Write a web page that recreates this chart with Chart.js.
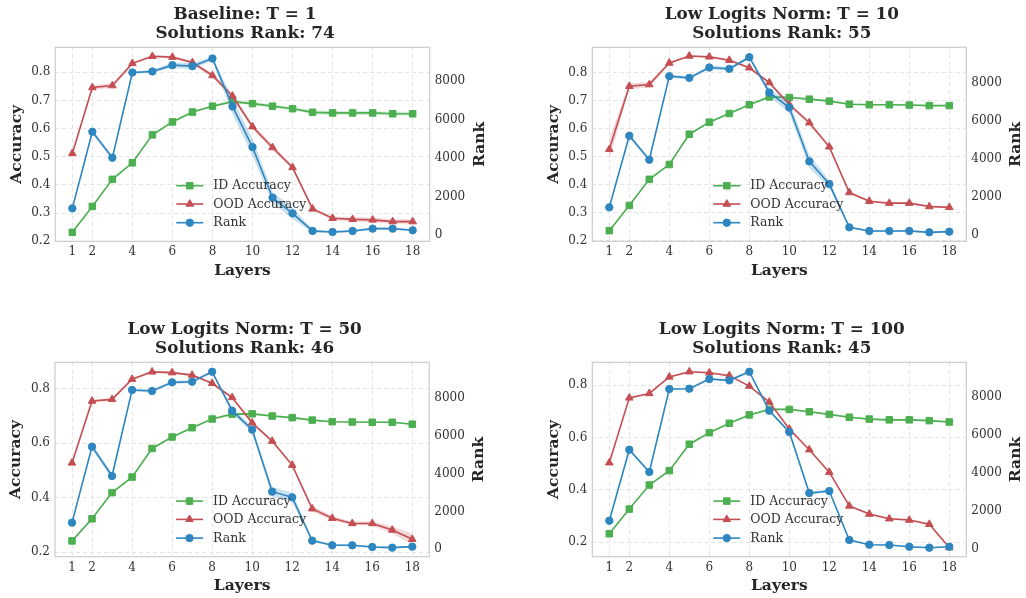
<!DOCTYPE html>
<html><head><meta charset="utf-8">
<script src="https://cdn.jsdelivr.net/npm/chart.js@4.4.1/dist/chart.umd.min.js"></script>
<style>
html,body{margin:0;padding:0;background:#fff;}
#wrap{position:relative;width:1026px;height:598px;overflow:hidden;background:#fff;}
canvas{position:absolute;left:0;top:0;}
</style></head><body><div id="wrap">
<canvas id="c0" width="1026" height="598"></canvas>
<canvas id="c1" width="1026" height="598"></canvas>
<canvas id="c2" width="1026" height="598"></canvas>
<canvas id="c3" width="1026" height="598"></canvas>
</div>
<script>
// ---------- data ----------
const layers = [1,2,3,4,5,6,7,8,9,10,11,12,13,14,15,16,17,18];
const xTickValues = [1,2,4,6,8,10,12,14,16,18];
const accTicksFine = [0.2,0.3,0.4,0.5,0.6,0.7,0.8];
const accTicksCoarse = [0.2,0.4,0.6,0.8];
const rankTicks = [0,2000,4000,6000,8000];
const seriesNames = ['ID Accuracy','OOD Accuracy','Rank'];
const panelTitles = [
  ['Baseline: T = 1','Solutions Rank: 74'],
  ['Low Logits Norm: T = 10','Solutions Rank: 55'],
  ['Low Logits Norm: T = 50','Solutions Rank: 46'],
  ['Low Logits Norm: T = 100','Solutions Rank: 45']
];

const baseId   = [0.232,0.324,0.420,0.479,0.578,0.624,0.659,0.680,0.696,0.689,0.680,0.671,0.658,0.656,0.656,0.656,0.653,0.653];
const baseOod  = [0.512,0.746,0.753,0.832,0.857,0.854,0.835,0.789,0.716,0.607,0.533,0.462,0.315,0.282,0.278,0.276,0.270,0.270];
const baseRank = [1400,5374,4026,8450,8502,8830,8778,9176,6687,4579,1953,1140,225,173,225,346,346,259];
const baseIdStd   = [0.003,0.003,0.003,0.003,0.004,0.004,0.004,0.004,0.006,0.006,0.006,0.006,0.007,0.007,0.007,0.007,0.007,0.007];
const baseOodStd  = [0.004,0.008,0.008,0.004,0.004,0.004,0.006,0.008,0.010,0.010,0.010,0.006,0.006,0.006,0.008,0.008,0.008,0.008];
const baseRankStd = [60,120,120,60,80,150,150,120,400,450,300,300,80,60,60,60,60,60];

const t10Id   = [0.236,0.326,0.419,0.472,0.580,0.623,0.654,0.685,0.713,0.711,0.705,0.698,0.687,0.685,0.685,0.684,0.682,0.682];
const t10Ood  = [0.526,0.751,0.757,0.834,0.859,0.856,0.844,0.817,0.764,0.686,0.621,0.535,0.372,0.341,0.334,0.334,0.322,0.319];
const t10Rank = [1467,5224,3966,8351,8263,8805,8735,9346,7495,6708,3878,2690,419,227,227,227,157,192];
const t10IdStd   = [0.003,0.003,0.003,0.003,0.003,0.003,0.003,0.003,0.004,0.004,0.004,0.004,0.003,0.003,0.003,0.003,0.003,0.003];
const t10OodStd  = [0.038,0.010,0.010,0.004,0.003,0.003,0.004,0.004,0.006,0.006,0.008,0.006,0.004,0.004,0.004,0.004,0.004,0.004];
const t10RankStd = [60,100,100,80,80,100,100,80,200,300,350,200,60,50,50,50,50,50];

const t50Id   = [0.242,0.323,0.419,0.476,0.581,0.623,0.657,0.689,0.707,0.708,0.700,0.694,0.685,0.679,0.678,0.677,0.677,0.670];
const t50Ood  = [0.528,0.755,0.761,0.835,0.862,0.859,0.850,0.820,0.768,0.675,0.608,0.520,0.360,0.325,0.306,0.306,0.282,0.248];
const t50Rank = [1410,5427,3876,8422,8370,8828,8863,9391,7330,6326,3048,2749,458,211,211,123,88,141];
const t50IdStd   = [0.003,0.003,0.003,0.003,0.003,0.003,0.003,0.003,0.004,0.005,0.004,0.004,0.003,0.003,0.003,0.003,0.003,0.003];
const t50OodStd  = [0.004,0.005,0.005,0.004,0.004,0.004,0.004,0.004,0.005,0.005,0.005,0.006,0.010,0.008,0.006,0.008,0.013,0.020];
const t50RankStd = [60,150,150,80,80,80,80,80,150,150,250,250,60,50,50,50,50,50];

const t100Id   = [0.233,0.327,0.419,0.474,0.575,0.619,0.655,0.687,0.708,0.708,0.699,0.689,0.678,0.671,0.668,0.668,0.665,0.660];
const t100Ood  = [0.504,0.752,0.769,0.832,0.852,0.848,0.837,0.797,0.736,0.633,0.554,0.468,0.339,0.308,0.290,0.285,0.269,0.180];
const t100Rank = [1480,5233,4053,8440,8458,8969,8898,9356,7295,6167,2943,3048,458,211,194,106,53,106];
const t100IdStd   = [0.002,0.002,0.002,0.002,0.002,0.002,0.002,0.002,0.003,0.003,0.003,0.003,0.003,0.003,0.003,0.003,0.003,0.003];
const t100OodStd  = [0.003,0.003,0.003,0.003,0.003,0.003,0.003,0.003,0.004,0.004,0.004,0.004,0.004,0.004,0.004,0.004,0.004,0.004];
const t100RankStd = [40,60,60,50,50,60,60,60,80,80,80,80,40,30,30,30,30,30];

const panelData = [
  [baseId, baseOod, baseRank, baseIdStd, baseOodStd, baseRankStd],
  [t10Id, t10Ood, t10Rank, t10IdStd, t10OodStd, t10RankStd],
  [t50Id, t50Ood, t50Rank, t50IdStd, t50OodStd, t50RankStd],
  [t100Id, t100Ood, t100Rank, t100IdStd, t100OodStd, t100RankStd]
];

// ---------- style / layout ----------
const FONT = '"DejaVu Serif", serif';
const colors = ['#4CAF50','#C44E52','#2E86C1'];
const bandColors = ['rgba(76,175,80,0.22)','rgba(196,78,82,0.22)','rgba(46,134,193,0.25)'];
const pStyles = ['rect','triangle','circle'];
const pRadii = [4.6,4.4,3.7];

const panels = [
  {area:{l:55.3,t:47.3,r:429.7,b:241.3}, acc:[0.2,0.889], rank:[-311,9756], accTicks:accTicksFine},
  {area:{l:592.3,t:47.3,r:966.3,b:241.3}, acc:[0.198,0.89], rank:[-314,9866], accTicks:accTicksFine},
  {area:{l:55.0,t:362.3,r:429.3,b:556.7}, acc:[0.184,0.897], rank:[-391,9888], accTicks:accTicksCoarse},
  {area:{l:592.3,t:362.3,r:966.3,b:556.7}, acc:[0.145,0.888], rank:[-423,9852], accTicks:accTicksCoarse}
];
const W_L = 55, W_R = 60, H_X = 40, TITLE_H = 42.6;

const framePlugin = {
  id:'frame',
  afterDatasetsDraw(chart){
    const {ctx, chartArea:a} = chart;
    ctx.save();
    ctx.strokeStyle = '#cccccc';
    ctx.lineWidth = 1.2;
    ctx.strokeRect(a.left, a.top, a.right - a.left, a.bottom - a.top);
    // inner legend
    const rowY = [-55.6,-37.3,-18.6];
    seriesNames.forEach((name,i)=>{
      const y = a.bottom + rowY[i];
      const x0 = a.left + 121, x1 = a.left + 148;
      ctx.strokeStyle = colors[i];
      ctx.fillStyle = colors[i];
      ctx.lineWidth = 1.6;
      ctx.setLineDash([]);
      ctx.beginPath(); ctx.moveTo(x0,y); ctx.lineTo(x1,y); ctx.stroke();
      ctx.lineWidth = 1;
      Chart.helpers.drawPoint(ctx, {pointStyle:pStyles[i], radius:pRadii[i], borderWidth:1, rotation:0}, (x0+x1)/2, y);
      ctx.fillStyle = '#333333';
      ctx.font = '12.5px ' + FONT;
      ctx.textBaseline = 'middle';
      ctx.textAlign = 'left';
      ctx.fillText(name, a.left + 158, y + 0.5);
    });
    // right axis title
    ctx.translate(a.right + 50, (a.top + a.bottom)/2);
    ctx.rotate(-Math.PI/2);
    ctx.fillStyle = '#262626';
    ctx.font = 'bold 15.5px ' + FONT;
    ctx.textAlign = 'center';
    ctx.textBaseline = 'middle';
    ctx.fillText('Rank', 0, 0);
    ctx.restore();
  }
};

function pts(vals, std, sign){
  return layers.map((x,i)=>({x:x, y: vals[i] + sign*(std ? std[i] : 0)}));
}

panels.forEach((p, k)=>{
  const [idV, oodV, rkV, idS, oodS, rkS] = panelData[k];
  const series = [[idV,idS,'yAcc'],[oodV,oodS,'yAcc'],[rkV,rkS,'yRank']];
  const datasets = [];
  series.forEach(([v,s,axis],i)=>{
    const ord = 10 - i*3;
    datasets.push({label:'lo'+i, data:pts(v,s,-1), yAxisID:axis, borderWidth:0, pointRadius:0, fill:false, order:ord+1, borderColor:'rgba(0,0,0,0)'});
    datasets.push({label:'hi'+i, data:pts(v,s,1), yAxisID:axis, borderWidth:0, pointRadius:0, fill:'-1', backgroundColor:bandColors[i], order:ord+1, borderColor:'rgba(0,0,0,0)'});
    datasets.push({label:seriesNames[i], data:pts(v,null,0), yAxisID:axis, borderColor:colors[i], backgroundColor:colors[i],
      borderWidth:1.6, pointStyle:pStyles[i], pointRadius:pRadii[i], pointBorderWidth:1, pointBorderColor:colors[i], pointBackgroundColor:colors[i],
      tension:0, fill:false, order:ord});
  });
  const a = p.area;
  new Chart(document.getElementById('c'+k), {
    type:'line',
    data:{datasets},
    options:{
      responsive:false, animation:false, devicePixelRatio:1, events:[],
      layout:{padding:{left:a.l - W_L, right:1026 - a.r - W_R, top:a.t - TITLE_H, bottom:598 - a.b - H_X}},
      plugins:{
        legend:{display:false}, tooltip:{enabled:false},
        title:{display:true, text:panelTitles[k], color:'#262626', font:{family:FONT, size:16.8, weight:'bold', lineHeight:1.143}, padding:{top:0,bottom:4.2}}
      },
      scales:{
        x:{type:'linear', min:0.15, max:18.85,
          afterFit(s){ s.height = H_X; },
          afterBuildTicks(s){ s.ticks = xTickValues.map(v=>({value:v})); },
          ticks:{autoSkip:false, maxRotation:0, padding:3.5, color:'#333333', font:{family:FONT, size:12}, callback:v=>String(v)},
          grid:{display:true, color:'#e4e4e4', lineWidth:1, drawTicks:false},
          border:{display:false, dash:[4,3]},
          title:{display:true, text:'Layers', color:'#262626', font:{family:FONT, size:15.5, weight:'bold', lineHeight:1.2}, padding:{top:0,bottom:1}}
        },
        yAcc:{type:'linear', position:'left', min:p.acc[0], max:p.acc[1],
          afterFit(s){ s.width = W_L; },
          afterBuildTicks(s){ s.ticks = p.accTicks.map(v=>({value:v})); },
          ticks:{padding:5, color:'#333333', font:{family:FONT, size:12}, callback:v=>Number(v).toFixed(1)},
          grid:{display:true, color:'#e4e4e4', lineWidth:1, drawTicks:false},
          border:{display:false, dash:[4,3]},
          title:{display:true, text:'Accuracy', color:'#262626', font:{family:FONT, size:15.5, weight:'bold', lineHeight:1.2}, padding:{top:7,bottom:0}}
        },
        yRank:{type:'linear', position:'right', min:p.rank[0], max:p.rank[1],
          afterFit(s){ s.width = W_R; },
          afterBuildTicks(s){ s.ticks = rankTicks.map(v=>({value:v})); },
          ticks:{padding:5, color:'#333333', font:{family:FONT, size:12}, callback:v=>String(v)},
          grid:{display:false, drawTicks:false},
          border:{display:false}
        }
      }
    },
    plugins:[framePlugin]
  });
});
</script>
</body></html>
